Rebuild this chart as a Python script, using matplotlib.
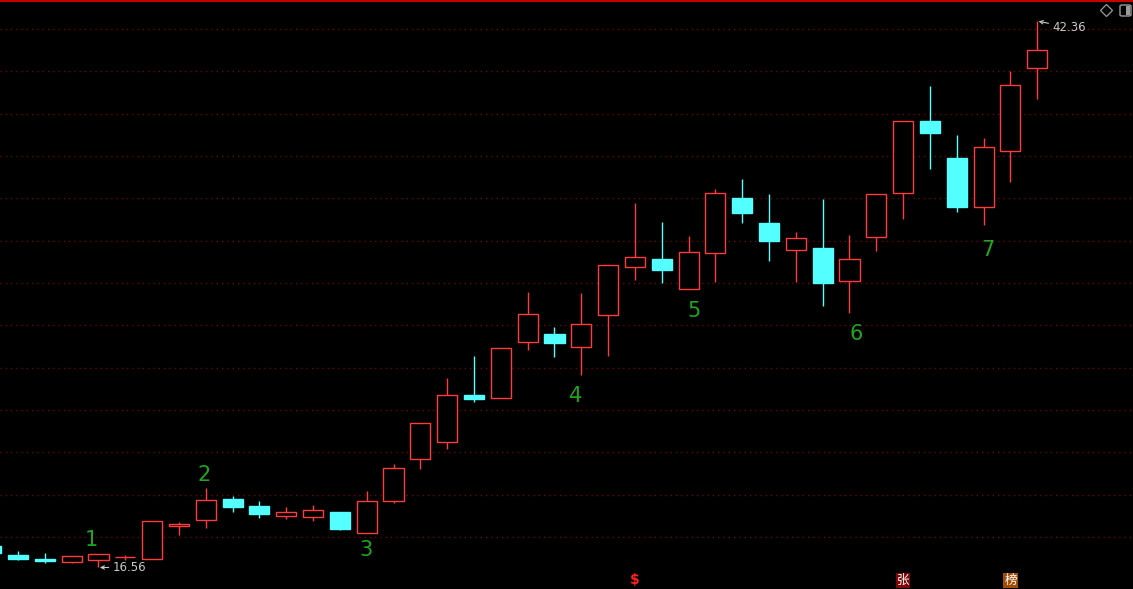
import matplotlib
matplotlib.use("Agg")
import matplotlib.pyplot as plt
import matplotlib.transforms as mtransforms
from matplotlib.patches import Rectangle, FancyBboxPatch
from matplotlib.lines import Line2D
import numpy as np

# --------------------------------------------------------------------------
# Data: daily OHLC (oldest first)
# --------------------------------------------------------------------------
opens = [17.58, 17.15, 16.96, 16.82, 16.91, 17.05, 16.96, 18.52, 18.80, 19.80,
         19.46, 18.99, 18.95, 19.18, 18.19, 19.70, 21.69, 22.49, 24.71, 24.57,
         27.21, 27.59, 26.98, 28.49, 30.76, 31.13, 29.72, 31.42, 34.02, 32.83,
         31.56, 31.65, 30.09, 32.17, 34.25, 37.65, 35.91, 33.59, 36.24, 40.16]
highs = [17.62, 17.34, 17.24, 17.10, 17.20, 17.15, 18.76, 18.71, 20.32, 19.94,
         19.70, 19.42, 19.51, 19.18, 20.17, 21.45, 23.39, 25.51, 26.55, 26.93,
         29.57, 27.92, 29.53, 30.85, 33.78, 32.88, 32.22, 34.44, 34.91, 34.20,
         32.41, 33.97, 32.27, 34.20, 37.65, 39.31, 36.99, 36.85, 40.02, 42.36]
lows = [17.20, 16.91, 16.77, 16.77, 16.56, 16.91, 16.96, 18.09, 18.43, 19.18,
        18.90, 18.85, 18.76, 18.33, 18.19, 19.61, 21.21, 22.16, 24.38, 24.57,
        26.83, 26.50, 25.65, 26.55, 30.14, 30.00, 29.72, 30.05, 32.83, 31.04,
        30.05, 28.91, 28.58, 31.51, 33.02, 35.39, 33.35, 32.74, 34.77, 38.69]
closes = [17.24, 16.96, 16.87, 17.10, 17.20, 17.07, 18.76, 18.61, 19.75, 19.42,
          19.09, 19.18, 19.28, 18.38, 19.70, 21.26, 23.39, 24.71, 24.52, 26.93,
          28.54, 27.17, 28.06, 30.85, 31.23, 30.61, 31.46, 34.25, 33.31, 31.98,
          32.13, 30.00, 31.13, 34.20, 37.65, 37.09, 33.59, 36.43, 39.35, 41.01]

# hand-drawn wave count labels: (text, x in bars, price)
wave_labels = [("1", 3.72, 17.86), ("2", 7.93, 20.93), ("3", 13.97, 17.39),
               ("4", 21.80, 24.66), ("5", 26.20, 28.68), ("6", 32.24, 27.59),
               ("7", 37.17, 31.56)]

# event markers under the bars
marker_bars = [24, 34, 38]
marker_texts = ["$", "张", "榜"]

grid_levels = np.arange(18, 43, 2)

# --------------------------------------------------------------------------
# Styles
# --------------------------------------------------------------------------
UP = '#ff3b3b'
DOWN = '#54ffff'
GRID = '#8a0000'
LABEL_GREEN = '#1fa51f'
BODY_W = 0.75
CJK = ['Noto Sans CJK SC', 'DejaVu Sans']

opens = np.array(opens)
highs = np.array(highs)
lows = np.array(lows)
closes = np.array(closes)
xs = np.arange(len(opens))

fig = plt.figure(figsize=(11.33, 5.89), dpi=100, facecolor='black')
ax = fig.add_axes([0, 0, 1, 1])
ax.set_facecolor('black')
ax.set_xlim(0.328, 42.57)
ax.set_ylim(15.544, 43.37)
ax.axis('off')

# dotted price grid
for lv in grid_levels:
    ax.axhline(lv, color=GRID, lw=1.0, ls=(0, (0.8, 3.0)), zorder=1)

# candles
for x, o, h, l, c in zip(xs, opens, highs, lows, closes):
    up = c >= o
    col = UP if up else DOWN
    top, bot = max(o, c), min(o, c)
    ax.vlines(x, top, h, color=col, lw=1.0, zorder=2)
    ax.vlines(x, l, bot, color=col, lw=1.0, zorder=2)
    ax.add_patch(Rectangle((x - BODY_W / 2, bot), BODY_W, top - bot,
                           facecolor='black' if up else col, edgecolor=col,
                           lw=1.0, zorder=3))

# wave count labels
for txt, lx, ly in wave_labels:
    ax.text(lx, ly, txt, color=LABEL_GREEN, fontsize=15, ha='center',
            va='center', zorder=5)

# min / max price tags
i_lo = int(np.argmin(lows))
i_hi = int(np.argmax(highs))
ax.annotate(f"{lows[i_lo]:.2f}", xy=(i_lo + 0.05, lows[i_lo]),
            xytext=(13, 0), textcoords='offset pixels', color='#c8c8c8',
            fontsize=8.5, va='center', ha='left',
            arrowprops=dict(arrowstyle='->', color='#c8c8c8', lw=0.8,
                            shrinkA=1, shrinkB=0, mutation_scale=6))
ax.annotate(f"{highs[i_hi]:.2f}", xy=(i_hi + 0.05, highs[i_hi]),
            xytext=(14, -6), textcoords='offset pixels', color='#c8c8c8',
            fontsize=8.5, va='center', ha='left',
            arrowprops=dict(arrowstyle='->', color='#c8c8c8', lw=0.8,
                            shrinkA=1, shrinkB=0, mutation_scale=6))

# event markers along the bottom
trans = mtransforms.blended_transform_factory(ax.transData, ax.transAxes)
ax.text(marker_bars[0], 0.004, marker_texts[0], transform=trans, color='#ff2020',
        fontsize=10, fontweight='bold', ha='center', va='bottom', zorder=5)
ax.text(marker_bars[1], 0.004, marker_texts[1], transform=trans, color='white',
        fontsize=9, ha='center', va='bottom', family=CJK,
        bbox=dict(boxstyle='square,pad=0.08', fc='#7c0808', ec='none'), zorder=5)
ax.text(marker_bars[2], 0.004, marker_texts[2], transform=trans, color='white',
        fontsize=9, ha='center', va='bottom', family=CJK,
        bbox=dict(boxstyle='square,pad=0.08', fc='#a04d08', ec='none'), zorder=5)

# top border and corner icons
fig.add_artist(Line2D([0, 1], [0.999, 0.999], color='#c80000', lw=1.5,
                      transform=fig.transFigure))
fig.add_artist(Line2D([1106 / 1133], [1 - 10 / 589], marker='D', ms=6,
                      mfc='none', mec='#9a9a9a', mew=0.9, transform=fig.transFigure))
fig.add_artist(FancyBboxPatch((1120 / 1133, 1 - 16 / 589), 11 / 1133, 11 / 589,
                              boxstyle='round,pad=0,rounding_size=0.002',
                              fc='none', ec='#9a9a9a', lw=1.0,
                              transform=fig.transFigure))
fig.add_artist(Rectangle((1126 / 1133, 1 - 15 / 589), 4 / 1133, 9 / 589,
                         fc='#9a9a9a', ec='none', transform=fig.transFigure))

fig.savefig('out.png', dpi=100, facecolor='black')
